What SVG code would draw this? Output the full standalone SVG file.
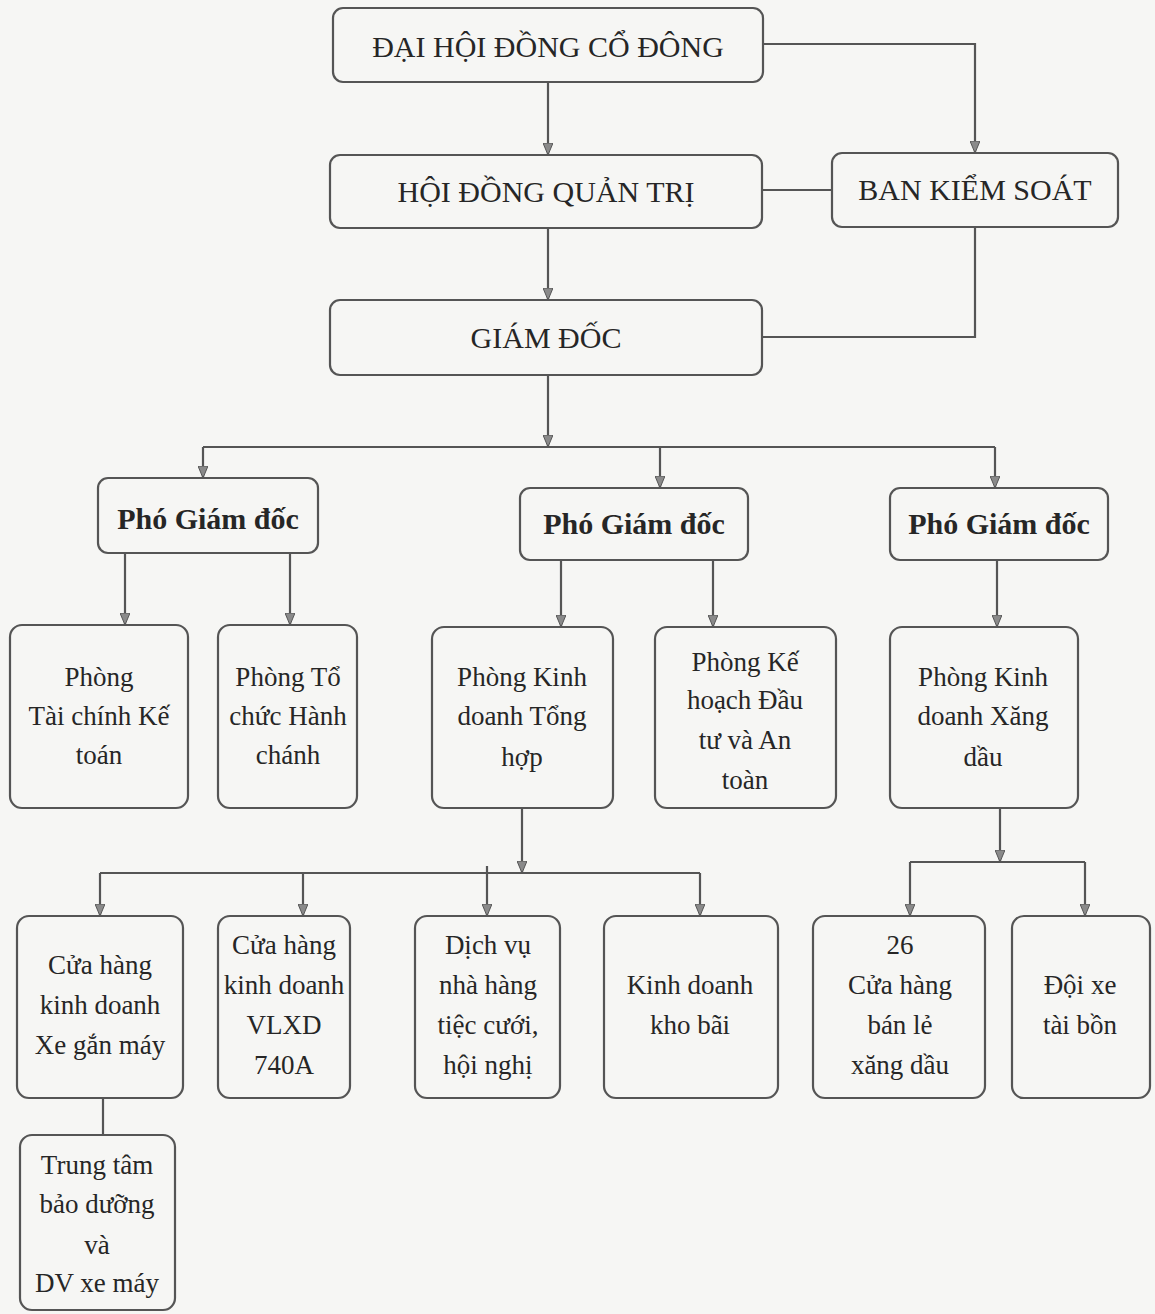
<svg xmlns="http://www.w3.org/2000/svg" width="1155" height="1314" viewBox="0 0 1155 1314">
<style>
.box{fill:none;stroke:#555555;stroke-width:2.2}
.t{font-family:"Liberation Serif","Times New Roman",serif;font-size:27px;fill:#262626;text-anchor:middle}
.h{font-size:30px}
.b{font-weight:bold;font-size:30px}
.c{fill:none;stroke:#555555;stroke-width:2.2}
.ca{fill:none;stroke:#555555;stroke-width:2.2;marker-end:url(#arr)}
</style>
<defs>
<marker id="arr" viewBox="0 0 12 10" refX="12" refY="5" markerWidth="12" markerHeight="10" markerUnits="userSpaceOnUse" orient="auto">
<path d="M0,0 L12,5 L0,10 z" fill="#8a8a8a" stroke="#555555" stroke-width="1"/>
</marker>
</defs>
<rect width="1155" height="1314" fill="#f6f6f4"/>
<g id="connectors">
<path class="ca" d="M548,82 V155"/>
<path class="ca" d="M763,44 H975 V153"/>
<path class="c" d="M762,190 H832"/>
<path class="c" d="M975,227 V337 H762"/>
<path class="ca" d="M548,228 V300"/>
<path class="ca" d="M548,375 V447"/>
<path class="c" d="M203,447 H995"/>
<path class="ca" d="M203,447 V478"/>
<path class="ca" d="M660,447 V488"/>
<path class="ca" d="M995,447 V488"/>
<path class="ca" d="M125,553 V625"/>
<path class="ca" d="M290,553 V625"/>
<path class="ca" d="M561,560 V627"/>
<path class="ca" d="M713,560 V627"/>
<path class="ca" d="M997,560 V627"/>
<path class="ca" d="M522,808 V873"/>
<path class="c" d="M100,873 H700"/>
<path class="ca" d="M100,873 V916"/>
<path class="ca" d="M303,873 V916"/>
<path class="ca" d="M487,866 V916"/>
<path class="ca" d="M700,873 V916"/>
<path class="ca" d="M1000,808 V862"/>
<path class="c" d="M910,862 H1085"/>
<path class="ca" d="M910,862 V916"/>
<path class="ca" d="M1085,862 V916"/>
<path class="c" d="M103,1098 V1135"/>
</g>
<g id="dhdcd"><rect class="box" x="333" y="8" width="430" height="74" rx="10"/><text class="t h" x="548" y="57">ĐẠI HỘI ĐỒNG CỔ ĐÔNG</text></g>
<g id="hdqt"><rect class="box" x="330" y="155" width="432" height="73" rx="10"/><text class="t h" x="546" y="202">HỘI ĐỒNG QUẢN TRỊ</text></g>
<g id="bks"><rect class="box" x="832" y="153" width="286" height="74" rx="10"/><text class="t h" x="975" y="200">BAN KIỂM SOÁT</text></g>
<g id="gd"><rect class="box" x="330" y="300" width="432" height="75" rx="10"/><text class="t h" x="546" y="348">GIÁM ĐỐC</text></g>
<g id="pgd1"><rect class="box" x="98" y="478" width="220" height="75" rx="10"/><text class="t b" x="208" y="529">Phó Giám đốc</text></g>
<g id="pgd2"><rect class="box" x="520" y="488" width="228" height="72" rx="10"/><text class="t b" x="634" y="534">Phó Giám đốc</text></g>
<g id="pgd3"><rect class="box" x="890" y="488" width="218" height="72" rx="10"/><text class="t b" x="999" y="534">Phó Giám đốc</text></g>
<g id="tckt"><rect class="box" x="10" y="625" width="178" height="183" rx="12"/><text class="t" x="99" y="686">Phòng</text><text class="t" x="99" y="725">Tài chính Kế</text><text class="t" x="99" y="764">toán</text></g>
<g id="tchc"><rect class="box" x="218" y="625" width="139" height="183" rx="12"/><text class="t" x="288" y="686">Phòng Tổ</text><text class="t" x="288" y="725">chức Hành</text><text class="t" x="288" y="764">chánh</text></g>
<g id="kdth"><rect class="box" x="432" y="627" width="181" height="181" rx="12"/><text class="t" x="522" y="686">Phòng Kinh</text><text class="t" x="522" y="725">doanh Tổng</text><text class="t" x="522" y="766">hợp</text></g>
<g id="khdt"><rect class="box" x="655" y="627" width="181" height="181" rx="12"/><text class="t" x="745" y="671">Phòng Kế</text><text class="t" x="745" y="709">hoạch Đầu</text><text class="t" x="745" y="749">tư và An</text><text class="t" x="745" y="789">toàn</text></g>
<g id="kdxd"><rect class="box" x="890" y="627" width="188" height="181" rx="12"/><text class="t" x="983" y="686">Phòng Kinh</text><text class="t" x="983" y="725">doanh Xăng</text><text class="t" x="983" y="766">dầu</text></g>
<g id="chxgm"><rect class="box" x="17" y="916" width="166" height="182" rx="12"/><text class="t" x="100" y="974">Cửa hàng</text><text class="t" x="100" y="1014">kinh doanh</text><text class="t" x="100" y="1054">Xe gắn máy</text></g>
<g id="chvlxd"><rect class="box" x="218" y="916" width="132" height="182" rx="12"/><text class="t" x="284" y="954">Cửa hàng</text><text class="t" x="284" y="994">kinh doanh</text><text class="t" x="284" y="1034">VLXD</text><text class="t" x="284" y="1074">740A</text></g>
<g id="dvnh"><rect class="box" x="415" y="916" width="145" height="182" rx="12"/><text class="t" x="488" y="954">Dịch vụ</text><text class="t" x="488" y="994">nhà hàng</text><text class="t" x="488" y="1034">tiệc cưới,</text><text class="t" x="488" y="1074">hội nghị</text></g>
<g id="kdkb"><rect class="box" x="604" y="916" width="174" height="182" rx="12"/><text class="t" x="690" y="994">Kinh doanh</text><text class="t" x="690" y="1034">kho bãi</text></g>
<g id="ch26"><rect class="box" x="813" y="916" width="172" height="182" rx="12"/><text class="t" x="900" y="954">26</text><text class="t" x="900" y="994">Cửa hàng</text><text class="t" x="900" y="1034">bán lẻ</text><text class="t" x="900" y="1074">xăng dầu</text></g>
<g id="doixe"><rect class="box" x="1012" y="916" width="138" height="182" rx="12"/><text class="t" x="1080" y="994">Đội xe</text><text class="t" x="1080" y="1034">tài bồn</text></g>
<g id="ttbd"><rect class="box" x="20" y="1135" width="155" height="175" rx="12"/><text class="t" x="97" y="1174">Trung tâm</text><text class="t" x="97" y="1213">bảo dưỡng</text><text class="t" x="97" y="1254">và</text><text class="t" x="97" y="1292">DV xe máy</text></g>
</svg>
